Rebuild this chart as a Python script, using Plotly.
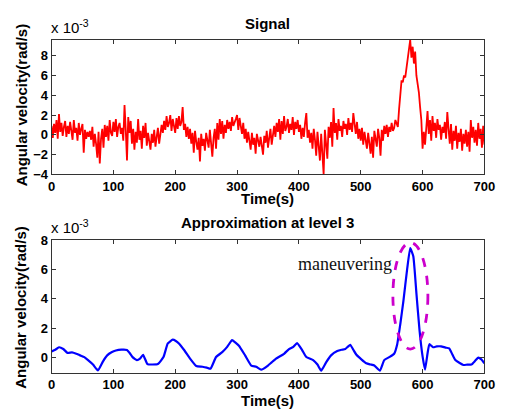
import plotly.graph_objects as go

# ---------------- data (angular velocity in units of 1e-3 rad/s) ----------------
signal_t = list(range(0, 701, 2))
signal = [
    0.9, -0.3, 1.1, 0.2, 1.5, -0.4, 2.1, 0.3, 1.2, -0.1,
    0.8, 1.4, -0.2, 0.9, 0.1, 1.3, 0.4, -0.5, 1.5, 0.2,
    0.7, -0.6, 1.2, 0.0, 0.6, 1.1, -1.8, 0.5, -0.4, 0.3,
    -0.2, 0.4, -0.5, 0.8, -1.2, 0.1, -0.9, -2.3, 0.3, -2.9,
    -0.4, 0.6, -1.3, 1.0, -0.2, 0.9, -0.6, 1.5, 0.2, -0.1,
    1.3, 0.3, 1.6, -0.2, 0.8, 1.2, 0.1, 0.7, -0.6, 3.0,
    0.5, -2.6, 1.8, 0.2, 1.4, -0.9, 0.6, -1.5, 0.3, -0.8,
    1.6, -0.5, 0.4, -1.4, 0.9, -0.3, 1.2, -1.1, 0.2, -0.6,
    -1.5, 0.1, -0.8, 0.5, -1.2, -0.2, 0.7, -0.9, 0.3, 1.0,
    0.2, 1.4, 0.5, 1.9, 0.8, 1.2, 2.0, 0.4, 1.6, 0.9,
    0.2, 1.7, 0.6, 1.9, 0.9, 1.3, 2.8, 0.5, 1.1, -0.2,
    0.8, -0.4, 0.6, -0.9, 0.2, -1.8, 0.4, -0.7, -1.5, -0.3,
    -2.7, 0.1, -1.1, -0.4, -1.6, 0.2, -0.8, -1.3, 0.5, -0.6,
    -2.2, -0.3, 0.6, -1.4, 1.2, -0.5, 1.6, 0.1, 1.4, -0.4,
    1.0, 0.2, 1.5, 0.6, 1.3, 0.4, 1.8, 0.9, 1.2, 1.6,
    2.0, 0.5, 1.7, 0.8, 0.1, 1.2, -0.4, 0.6, -0.8, 0.3,
    -0.7, -1.5, 0.2, -1.0, -0.3, -1.9, 0.1, -0.6, -1.2, -0.2,
    -0.9, -2.0, -0.1, -0.8, 0.4, -1.3, -0.3, 0.6, -1.0, 0.2,
    0.9, -0.2, 1.2, 0.3, 1.6, -0.5, 1.4, 0.1, 1.9, 0.4,
    0.8, 1.6, 0.2, 1.1, 0.5, 1.8, 0.0, 1.3, 0.6, 1.5,
    0.3, 1.0, -0.4, 0.7, -0.2, 1.2, 2.2, -0.3, 0.5, -0.8,
    0.2, -1.4, 0.6, -0.5, -2.1, 0.3, -1.0, -2.6, 0.1, -1.7,
    -4.0, 0.5, -0.9, -2.4, 0.8, -0.3, 1.3, -1.2, 2.7, 0.2,
    1.2, -0.5, 1.6, 0.4, 0.9, -0.2, 1.4, 0.6, 1.1, 0.0,
    1.7, 0.5, 1.2, 0.3, 2.2, 0.8, 0.1, 1.3, -0.4, 0.6,
    -0.6, 0.7, -1.0, 0.3, -0.5, -1.4, 0.2, -0.8, -1.9, -0.2,
    -2.3, 0.4, -0.7, -1.2, 0.6, -0.3, -2.1, 0.5, -0.6, 0.9,
    0.1, 1.0, -0.2, 0.8, 0.3, 1.2, 0.4, 0.7, 1.5, 1.1,
    0.8, 2.6, 4.5, 5.5, 5.3, 6.0, 5.8, 6.8, 7.4, 8.6,
    9.6, 7.8, 8.9, 7.2, 8.4, 6.0, 5.2, 4.3, 2.8, 1.5,
    -1.4, 0.3, -1.0, 1.2, 2.4, 0.1, 1.5, -0.6, 1.9, 0.4,
    1.2, -0.3, 1.6, 0.5, 1.0, -0.5, 0.8, 0.2, 1.3, -0.4,
    2.3, 0.6, -0.9, 1.1, -1.5, 0.4, -0.6, 0.9, -1.4, 0.2,
    -0.7, 0.6, -1.6, 0.1, -0.9, 0.5, -1.2, 0.3, -1.7, 1.5,
    -0.3, 0.8, -0.8, 0.5, -1.1, 1.2, -0.4, 0.6, -1.3, 0.9,
    -1.0,
]
assert len(signal) == len(signal_t)

approx_t = [0, 6, 12, 19, 26, 33, 40, 46, 53, 59, 67, 75, 83, 90, 97, 104, 113, 122,
            126, 131, 138, 143, 148, 155, 163, 172, 181, 188, 196, 201, 206, 215, 224,
            234, 244, 251, 257, 266, 276, 284, 292, 297, 303, 313, 323, 331, 339, 350,
            356, 363, 376, 384, 391, 397, 405, 412, 423, 430, 436, 444, 452, 462, 469,
            475, 483, 488, 493, 501, 509, 516, 522, 531, 538, 546, 554, 559, 564, 569,
            575, 580, 585, 590, 595, 600, 604, 608, 611, 617, 623, 630, 637, 643, 648,
            653, 660, 666, 672, 679, 685, 690, 695, 700]
approx = [0.43, 0.55, 0.72, 0.60, 0.33, 0.37, 0.28, 0.17, 0.05, -0.15, -0.45, -0.85,
          -0.25, 0.17, 0.38, 0.50, 0.56, 0.54, 0.35, 0.05, -0.15, -0.05, 0.21, -0.42,
          -0.45, -0.42, 0.06, 0.98, 1.24, 1.15, 0.98, 0.50, -0.05, -0.55, -0.60, -0.66,
          -0.74, 0.06, 0.39, 0.75, 1.21, 1.05, 0.82, 0.17, -0.52, -0.60, -0.80, -0.52,
          -0.30, -0.05, 0.28, 0.60, 0.75, 1.00, 0.55, 0.06, -0.15, -0.45, -0.87, -0.30,
          0.17, 0.46, 0.55, 0.60, 0.89, 0.55, 0.21, -0.10, -0.37, -0.45, -0.52, -0.87,
          -0.15, 0.05, 0.28, 0.93, 2.30, 3.86, 6.00, 7.45, 6.90, 4.40, 1.90, 0.10,
          -0.80, 0.30, 0.93, 0.72, 0.78, 0.78, 0.70, 0.65, 0.25, -0.15, -0.35, -0.48,
          -0.46, -0.45, -0.20, 0.02, -0.10, -0.37]
assert len(approx) == len(approx_t)

x_ticks = [0, 100, 200, 300, 400, 500, 600, 700]
y_ticks_signal = [-4, -2, 0, 2, 4, 6, 8]
y_ticks_approx = [0, 2, 4, 6, 8]

# ---------------- layout helpers ----------------
W, H = 509, 416


def px_x(x):
    return x / W


def px_y(y):
    return 1 - y / H


SANS = "Liberation Sans, Arial, sans-serif"
TICK_FONT = dict(family=SANS, size=13, color="black", weight="bold")
LABEL_FONT = dict(family=SANS, size=15, color="black", weight="bold")

fig = go.Figure()
fig.add_trace(go.Scatter(x=signal_t, y=signal, mode="lines",
                         line=dict(color="#ff0000", width=1.8),
                         xaxis="x", yaxis="y", showlegend=False))
fig.add_trace(go.Scatter(x=approx_t, y=approx, mode="lines",
                         line=dict(color="#0000ff", width=2.2, shape="spline", smoothing=0.4),
                         xaxis="x2", yaxis="y2", showlegend=False))

axis_common = dict(showline=True, linecolor="#333333", linewidth=1, mirror="allticks",
                   ticks="inside", ticklen=4, tickcolor="#333333", showgrid=False,
                   zeroline=False, tickfont=TICK_FONT)

fig.update_layout(
    width=W, height=H, margin=dict(l=0, r=0, t=0, b=0),
    paper_bgcolor="white", plot_bgcolor="white",
    xaxis=dict(domain=[px_x(49), px_x(495)], range=[0, 700], tickvals=x_ticks,
               anchor="y", **axis_common),
    yaxis=dict(domain=[px_y(173.7), px_y(34)], range=[-4, 9.6], tickvals=y_ticks_signal,
               anchor="x", **axis_common),
    xaxis2=dict(domain=[px_x(49), px_x(495)], range=[0, 700], tickvals=x_ticks,
                anchor="y2", **axis_common),
    yaxis2=dict(domain=[px_y(379.3), px_y(241.7)], range=[-1, 8], tickvals=y_ticks_approx,
                anchor="x2", **axis_common),
)

# maneuvering region marker
fig.add_shape(type="circle", xref="x2", yref="y2", x0=552, x1=608.6, y0=0.6, y1=7.82,
              line=dict(color="#cc00cc", width=2.8, dash="dash"))

annotations = [
    dict(text="Signal", x=px_x(272), y=px_y(17)),
    dict(text="Approximation at level 3", x=px_x(272), y=px_y(224)),
    dict(text="Time(s)", x=px_x(272), y=px_y(199)),
    dict(text="Time(s)", x=px_x(272), y=px_y(408)),
    dict(text="Angular velocity(rad/s)", x=px_x(17.5), y=px_y(101), textangle=-90),
    dict(text="Angular velocity(rad/s)", x=px_x(17.5), y=px_y(311), textangle=-90),
    dict(text="x 10<sup>-3</sup>", x=px_x(46), y=px_y(20), xanchor="left",
         font=dict(family=SANS, size=15, color="black")),
    dict(text="x 10<sup>-3</sup>", x=px_x(46), y=px_y(228), xanchor="left",
         font=dict(family=SANS, size=15, color="black")),
]
for a in annotations:
    a.setdefault("font", LABEL_FONT)
    a.setdefault("xanchor", "center")
    fig.add_annotation(xref="paper", yref="paper", showarrow=False, yanchor="middle", **a)

fig.add_annotation(text="maneuvering", xref="x2", yref="y2", x=554, y=6.36,
                   xanchor="right", yanchor="middle", showarrow=False,
                   font=dict(family="Liberation Serif, Times New Roman, serif", size=18,
                             color="#111111"))

fig.write_html("out.html")
